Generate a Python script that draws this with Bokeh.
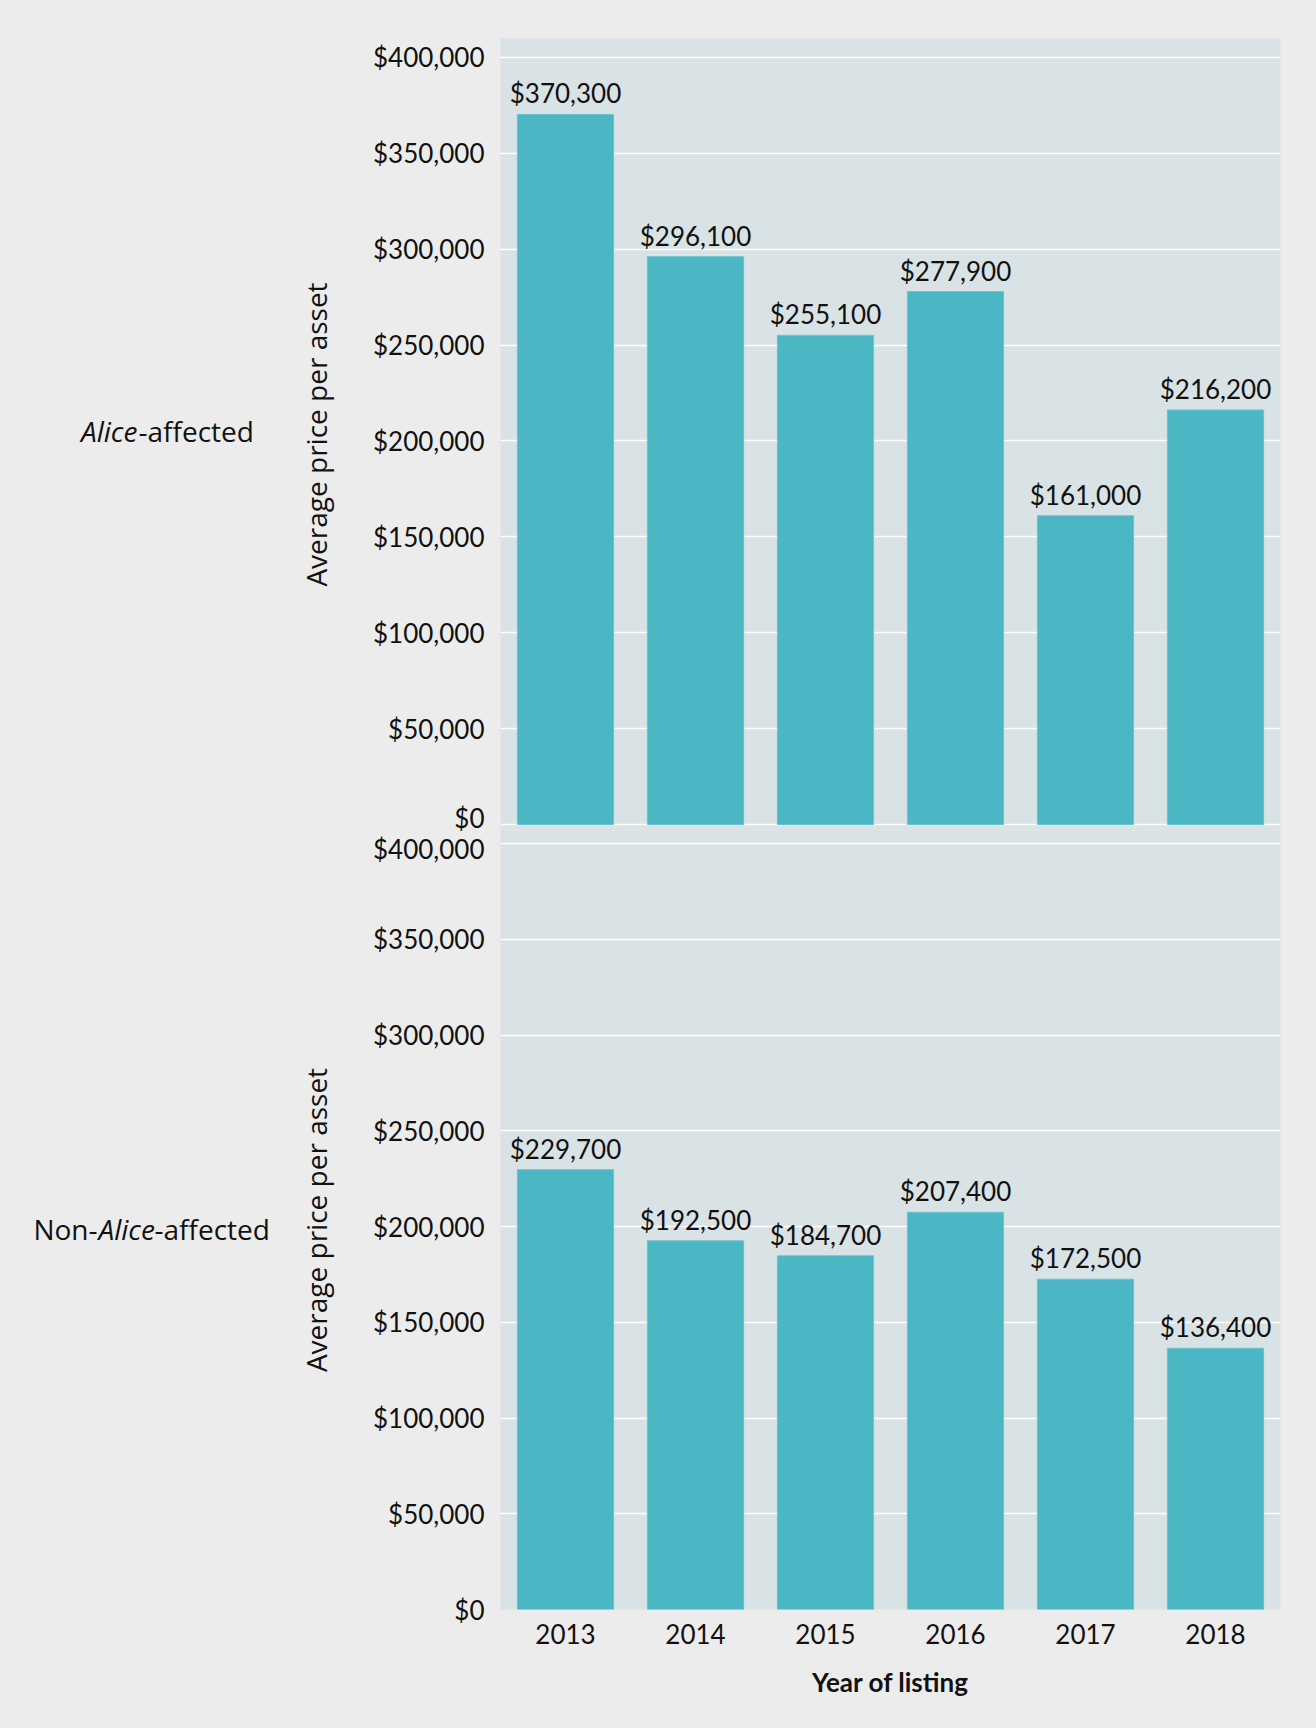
from bokeh.plotting import figure
from bokeh.layouts import column, row
from bokeh.models import (Range1d, FactorRange, FixedTicker, NumeralTickFormatter,
                          ColumnDataSource)
from bokeh.core.properties import value
from bokeh.embed import file_html
from bokeh.resources import INLINE

# ---------------- data ----------------
years = ["2013", "2014", "2015", "2016", "2017", "2018"]
alice_affected = [370300, 296100, 255100, 277900, 161000, 216200]
non_alice_affected = [229700, 192500, 184700, 207400, 172500, 136400]
y_ticks = [0, 50000, 100000, 150000, 200000, 250000, 300000, 350000, 400000]
y_title = "Average price per asset"
x_title = "Year of listing"
# row labels, split into (text, style) pieces
top_row_label = [("Alice", "italic"), ("-affected", "normal")]
bottom_row_label = [("Non-", "normal"), ("Alice", "italic"), ("-affected", "normal")]

# ---------------- style ----------------
OUTER = "#ececec"
PANEL = "#d9e2e4"
BAR = "#4bb6c4"
INK = "#111111"
NUM_FONT = "Lato"
TXT_FONT = "Open Sans"
NUM_SIZE = "26px"
TXT_SIZE = "28px"
OVERLAP = 32      # lower panel canvas slides under the upper one (transparent border)


def money(v):
    return "${:,}".format(v)


def make_panel(vals, height, y_start, y_end, border_top, border_bottom, show_x,
               label_nudge=None, **kw):
    p = figure(width=1038, height=height, title=None,
               x_range=FactorRange(*years, range_padding=0),
               y_range=Range1d(y_start, y_end),
               output_backend="svg", toolbar_location=None,
               x_axis_location="below" if show_x else None,
               min_border_left=224, min_border_right=34,
               min_border_top=border_top, min_border_bottom=border_bottom,
               background_fill_color=PANEL, border_fill_color=OUTER,
               outline_line_color=None, **kw)
    src = ColumnDataSource(dict(year=years, value=vals,
                                label=[money(v) for v in vals]))
    p.vbar(x="year", top="value", width=0.74, source=src,
           fill_color=BAR, line_color="#6cc3cf", line_width=1)
    p.text(x="year", y="value", text="label", source=src,
           text_font=value(NUM_FONT), text_font_size=NUM_SIZE,
           text_align="center", text_baseline="alphabetic",
           y_offset=-21, text_color=INK)

    # tick labels: the edge label next to the other panel is nudged a few
    # pixels away from the seam (grid lines stay on the true values)
    label_ticks = list(y_ticks)
    overrides = {}
    if label_nudge is not None:
        idx, dv = label_nudge
        label_ticks[idx] = y_ticks[idx] + dv
        overrides[label_ticks[idx]] = money(y_ticks[idx])

    ax = p.yaxis[0]
    ax.ticker = FixedTicker(ticks=label_ticks)
    ax.formatter = NumeralTickFormatter(format="$0,0")
    ax.major_label_overrides = overrides
    ax.axis_line_color = None
    ax.major_tick_line_color = None
    ax.minor_tick_line_color = None
    ax.major_tick_out = 0
    ax.major_tick_in = 0
    ax.major_label_standoff = 16
    ax.major_label_text_font = NUM_FONT
    ax.major_label_text_font_size = NUM_SIZE
    ax.major_label_text_color = INK
    ax.axis_label = y_title
    ax.axis_label_text_font = TXT_FONT
    ax.axis_label_text_font_style = "normal"
    ax.axis_label_text_font_size = TXT_SIZE
    ax.axis_label_text_color = INK
    ax.axis_label_standoff = 35

    p.ygrid.ticker = FixedTicker(ticks=y_ticks)
    p.ygrid.grid_line_color = "white"
    p.ygrid.grid_line_width = 1.5
    p.xgrid.grid_line_color = None

    if show_x:
        xa = p.xaxis[0]
        xa.axis_line_color = None
        xa.major_tick_line_color = None
        xa.minor_tick_line_color = None
        xa.major_tick_out = 0
        xa.major_tick_in = 0
        xa.major_label_standoff = 14
        xa.major_label_text_font = NUM_FONT
        xa.major_label_text_font_size = NUM_SIZE
        xa.major_label_text_color = INK
        xa.axis_label = x_title
        xa.axis_label_text_font = NUM_FONT
        xa.axis_label_text_font_style = "bold"
        xa.axis_label_text_font_size = NUM_SIZE
        xa.axis_label_text_color = INK
        xa.axis_label_standoff = 19
    return p


# top panel (Alice-affected): frame 38..830, $0 line at 824, canvas reaches 846
p1 = make_panel(alice_affected, 846, -3130, 409900, 38, 16, False,
                label_nudge=(0, 3500))

# bottom panel (Non-Alice-affected): canvas 814..1726, frame 830..1609
p2 = make_panel(non_alice_affected, 912, 0, 406800, 16, 117, True,
                label_nudge=(-1, -2600), margin=(-OVERLAP, 0, 0, 0))
p2.border_fill_alpha = 0

# left strip holding the row labels (pixel coordinates, y downwards)
H = 846 - OVERLAP + 912
side = figure(width=276, height=H, title=None,
              x_range=Range1d(0, 276), y_range=Range1d(H, 0),
              output_backend="svg", toolbar_location=None,
              x_axis_location=None, y_axis_location=None,
              min_border=0, background_fill_color=OUTER,
              border_fill_color=OUTER, outline_line_color=None)
side.grid.visible = False

# (x, align) anchor for each piece
row_pieces = [
    (top_row_label, [(137, "right"), (138, "left")], 430),
    (bottom_row_label, [(97, "right"), (98, "left"), (154, "left")], 1228),
]
for pieces, anchors, yc in row_pieces:
    for (txt, style), (xx, al) in zip(pieces, anchors):
        side.text(x=[xx], y=[yc], text=[txt],
                  text_font=value(TXT_FONT), text_font_size=TXT_SIZE,
                  text_font_style=style, text_align=al,
                  text_baseline="middle", text_color=INK)

layout = row(side, column(p1, p2, spacing=0), spacing=0)

html = file_html(layout, INLINE)
html = html.replace("</head>",
                    "<style>html,body{background:#ececec !important;}</style></head>", 1)
open("out.html", "w").write(html)
